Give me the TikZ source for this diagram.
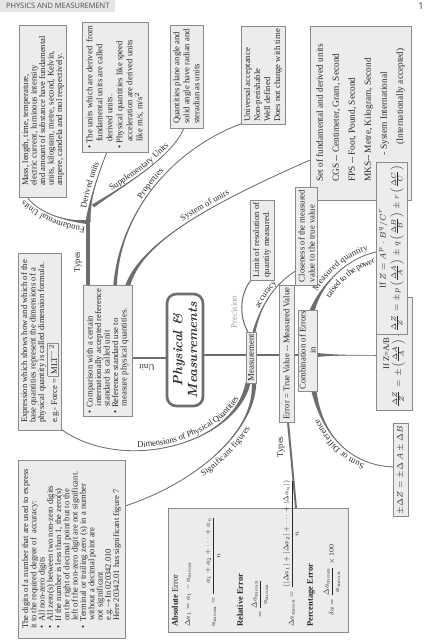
\documentclass[tikz,border=0pt]{standalone}
\usepackage{fontspec}
\usepackage{amsmath}
\usetikzlibrary{calc,decorations.text}
\newfontfamily\tms{Liberation Serif}
\newfontfamily\hdrf{Open Sans}
\definecolor{boxfill}{HTML}{ECECEC}
\definecolor{boxline}{HTML}{8A8A8A}
\definecolor{brc}{HTML}{6E6E6E}
\definecolor{txt}{HTML}{2A2A2A}
\definecolor{hdrfill}{HTML}{E6E6E6}
\newcommand\fA{\tms\fontsize{6.5}{6.4}\selectfont}
\newcommand\fB{\tms\fontsize{6.5}{7.5}\selectfont}
\newcommand\fE{\tms\fontsize{7}{12}\selectfont}
\newcommand\fS{\tms\fontsize{6.4}{6.2}\selectfont}
\newcommand\fL{\tms\fontsize{6.5}{7}\selectfont}
\newcommand\fM{\tms\fontsize{5.6}{6}\selectfont}
\newcommand\fN{\tms\fontsize{7}{8}\selectfont}
\newcommand\tbr[5]{%
  \fill[brc] ($#1!#5!90:#2$) .. controls #2 and #3 .. #4 .. controls #3 and #2 .. ($#1!#5!-90:#2$) -- cycle;
  \draw[brc, line width=0.6pt, line cap=round] #1 .. controls #2 and #3 .. #4;}
\begin{document}
\begin{tikzpicture}[x=0.75pt,y=-0.75pt,
  bx/.style={draw=boxline, fill=boxfill, line width=0.5pt, rotate=90, inner sep=2pt, align=left, text=txt},
  lbl/.style={text=txt, font=\fL, inner sep=0pt},
  eline/.style={rotate=90, scale=0.76, anchor=west, inner sep=0pt, text=txt, font=\fN},
  ehead/.style={rotate=90, anchor=west, inner sep=0pt, text=txt, font=\fS},
  clbl/.style={decorate, decoration={text along path, text align=center, text color=txt, raise=#1}}]
\useasboundingbox (0,0) rectangle (426,640);
\fill[white] (0,0) rectangle (426,640);
% header
\node[fill=hdrfill, anchor=north west, minimum width=86.25pt, minimum height=9pt, inner sep=0pt,
  font=\hdrf\fontsize{5.6}{6}\selectfont, text=txt!85] (hdr) at (0,0) {PHYSICS AND MEASUREMENT};
\node[font=\hdrf\fontsize{7}{8}\selectfont, text=txt] (pg) at (421,6) {1};
% coordinates
\coordinate (gR) at (132,358); \coordinate (cL) at (167,358);
\coordinate (cR) at (203,355); \coordinate (mL) at (246,355);
\coordinate (mR) at (256,355); \coordinate (eL) at (279,355);
\coordinate (eR) at (294,355); \coordinate (kL) at (299,355);
\coordinate (kR) at (316,355); \coordinate (zL) at (376,355);
\coordinate (gT1) at (88,288); \coordinate (tJ) at (88,222);
\coordinate (aB) at (27,197); \coordinate (bB) at (107,152);
\coordinate (sJ) at (93,206); \coordinate (cB) at (184,128);
\coordinate (gT2) at (115,288); \coordinate (dB) at (243,123);
\coordinate (gT3) at (127,288); \coordinate (esL) at (310,160);
\coordinate (mT1) at (248,332); \coordinate (pB) at (254,277);
\coordinate (mT2) at (254,332); \coordinate (aL) at (297,270);
\coordinate (mB1) at (248,383); \coordinate (fB) at (58,427);
\coordinate (mB2) at (254,383); \coordinate (sgR) at (125,506);
\coordinate (erB) at (288,422); \coordinate (etT) at (296,508);
\coordinate (kT) at (312,311); \coordinate (pwL) at (376,252);
\coordinate (kB) at (314,391); \coordinate (smL) at (393,467);
% branches
\draw[brc, line width=2.2pt] (cL) -- (gR);
\draw[brc, line width=2.2pt] (cR) -- (mL);
\draw[brc, line width=2.2pt] (mR) -- (eL);
\draw[brc, line width=2.2pt] (eR) -- (kL);
\tbr{(kR)}{(335,355)}{(355,355)}{(zL)}{1.6pt}
\draw[brc, line width=2.6pt] (gT1) -- (tJ);
\tbr{(tJ)}{(70,222)}{(40,215)}{(aB)}{1.6pt}
\tbr{(tJ)}{(90,195)}{(100,170)}{(bB)}{1.9pt}
\tbr{(sJ)}{(120,188)}{(172,158)}{(cB)}{1.3pt}
\tbr{(gT2)}{(118,215)}{(170,150)}{(dB)}{1.4pt}
\tbr{(gT3)}{(140,240)}{(220,200)}{(esL)}{1.9pt}
\draw[brc, line width=0.8pt] (mT1) .. controls (238,315) and (240,290) .. (pB);
\tbr{(mT2)}{(262,300)}{(278,282)}{(aL)}{1.1pt}
\tbr{(mB1)}{(235,445)}{(120,475)}{(fB)}{1.9pt}
\tbr{(mB2)}{(255,435)}{(190,485)}{(sgR)}{1.7pt}
\draw[brc, line width=1.5pt] (erB) -- (etT);
\tbr{(kT)}{(322,282)}{(348,258)}{(pwL)}{1.9pt}
\tbr{(kB)}{(322,435)}{(350,465)}{(smL)}{1.9pt}
% curved labels
\path[clbl=2pt, decoration={text={|\fL|Fundamental Units}}] (94,225) .. controls (70,224) and (40,215) .. (20,192);
\path[clbl=2.5pt, decoration={text={|\fL|Derived units}}] (tJ) .. controls (90,195) and (100,170) .. (bB);
\path[clbl=2pt, decoration={text={|\fL|Supplementary Units}}] (sJ) .. controls (120,188) and (172,158) .. (cB);
\path[clbl=2pt, decoration={text={|\fL|Properties}}] (gT2) .. controls (118,215) and (170,150) .. (dB);
\path[clbl=2.5pt, decoration={text={|\fL|System of units}}] (gT3) .. controls (140,240) and (220,200) .. (esL);
\path[clbl=2pt, decoration={text={|\fL|accuracy}}] (mT2) .. controls (262,300) and (278,282) .. (aL);
\path[clbl=2.5pt, decoration={text={|\fL|Dimensions of Physical Quantities}, text align={right, right indent=14pt}}] (fB) .. controls (120,475) and (235,445) .. (mB1);
\path[clbl=-7pt, decoration={text={|\fL|Significant figures}, text align={right, right indent=32pt}}] (sgR) .. controls (190,485) and (255,435) .. (mB2);
\path[clbl=3pt, decoration={text={|\fL|Measured quantity}, text align={right, right indent=5pt}}] (kT) .. controls (322,282) and (348,258) .. (pwL);
\path[clbl=-8pt, decoration={text={|\fL|raised to the power}, text align={right, right indent=3pt}}] (kT) .. controls (322,282) and (348,258) .. (pwL);
\path[clbl=2.5pt, decoration={text={|\fL|Sum or Difference}}] (smL) .. controls (350,465) and (322,435) .. (kB);
% straight labels
\node[lbl, rotate=180] (unitlbl) at (147,367) {Unit};
\node[lbl, rotate=90] (typ1) at (78,262) {Types};
\node[lbl, rotate=90, text=txt!45] (preclbl) at (234,312) {Precision};
\node[lbl, rotate=90] (typ2) at (281,447) {Types};
% boxes
\node[bx, font=\fA, minimum width=129pt, minimum height=34.5pt] (A) at (43,111) {Mass, length, time, temperature,\\
electric current, luminous intensity\\
and amount of substance have fundamental\\
units, kilogram, metre, second, Kelvin,\\
ampere, candela and mol respectively.};
\node[bx, font=\fB, minimum width=97.5pt, minimum height=49.5pt] (B) at (115,87) {\textbullet\ The units which are derived\ \ from\\
\hspace*{5pt}fundamental units are called\\
\hspace*{5pt}derived units.\\
\textbullet\ Physical quantities like speed\\
\hspace*{5pt}acceleration are derived units\\
\hspace*{5pt}like m/s, m/s$^2$};
\node[bx, font=\fB, minimum width=77pt, minimum height=24.75pt] (C) at (186.5,76.5) {Quantities plane angle and\\
solid angle have radian and\\
steradian as units};
\node[bx, font=\fB, minimum width=71pt, minimum height=33pt] (D) at (263,75.5) {Universal acceptance\\
Non-perishable\\
Well defined\\
Does not change with time};
\node[bx, font=\fE, minimum width=130.5pt, minimum height=75.75pt] (E) at (360.5,113) {Set of fundamental and derived units\\
CGS -- Centimeter, Gram, Second\\
FPS -- Foot, Pound, Second\\
MKS-- Metre, Kilogram, Second\\
S.I\hspace{12pt}- System International\\
\hspace*{28pt}(Internationally accepted)};
\node[bx, font=\fA, minimum width=132.75pt, minimum height=30pt] (F) at (40,341.5) {Expression which shows how and which of the\\
base quantities represent the dimensions of a\\
physical quantity is called dimension formula.\\
e.g.- Force = {\setlength\fboxsep{1pt}\setlength\fboxrule{0.4pt}\fcolorbox{boxline}{boxfill}{MLT$^{-2}$}}};
\node[bx, font=\fA, minimum width=98pt, minimum height=36.75pt] (G) at (107.5,351) {\textbullet\ Comparison with a certain\\
\hspace*{5pt}internationally accepted reference\\
\hspace*{5pt}standard is called unit\\
\textbullet\ Reference standard use to\\
\hspace*{5pt}measure physical quantities.};
\node[draw=brc, line width=2pt, rounded corners=7pt, fill=white, rotate=90, align=center,
  minimum width=84pt, minimum height=27pt, inner sep=1pt, text=txt,
  font=\bfseries\itshape\fontsize{10}{11}\selectfont] (ctr) at (185,350) {Physical \&\\Measurements};
\node[bx, font=\tms\fontsize{6.6}{7}\selectfont, minimum width=38.25pt, minimum height=7.5pt, inner sep=0.5pt, align=center] (meas) at (251,357.5) {Measurement};
\node[bx, font=\fB, minimum width=55pt, minimum height=18pt] (prec) at (262,240) {Limit of resolution of\\quantity measured.};
\node[bx, font=\fB, minimum width=73.5pt, minimum height=15.75pt] (acc) at (306.5,236) {Closeness of the measured\\value to the true value};
\node[bx, font=\fB, minimum width=102.75pt, minimum height=11.25pt, inner sep=1.5pt] (err) at (286.5,353.5) {Error = True Value -- Measured Value};
\node[bx, font=\fB, minimum width=60.75pt, minimum height=12.75pt, inner sep=1pt, align=center] (comb) at (307.5,350.5) {Combination of Errors\\in};
\node[bx, font=\fB, minimum width=47.25pt, minimum height=27pt, align=center] (zab) at (394,353.5) {If Z=A/B\\[1pt]
{\fM$\frac{\Delta Z}{Z}=\pm\left(\frac{\Delta A}{A}\right)+\left(\frac{\Delta B}{B}\right)$}};
\node[bx, font=\fB, minimum width=72.75pt, minimum height=23.25pt, align=center] (pow) at (391.5,248.5) {If $Z=A^p\cdot B^q/C^r$\\[1pt]
{\fM$\frac{\Delta Z}{Z}=\pm p\left(\frac{\Delta A}{A}\right)\pm q\left(\frac{\Delta B}{B}\right)\pm r\left(\frac{\Delta C}{C}\right)$}};
\node[bx, font=\fB, minimum width=48pt, minimum height=11.25pt, inner sep=1.5pt, align=center] (sum) at (400.5,470) {$\pm\Delta Z=\pm\Delta\,A\pm\Delta B$};
\node[bx, font=\fS, minimum width=133.5pt, minimum height=80.25pt] (sig) at (71.5,549) {The digits of a number that are used to express\\
it to the required degree of\ \ accuracy:\\
\textbullet\ \ All non-zero digits\\
\textbullet\ \ All zero(s) between two non-zero digits\\
\textbullet\ \ If the number is less than 1, the zero(s)\\
\hspace*{6pt}on the right of decimal point but to the\\
\hspace*{6pt}left of the non-zero digit are not significant.\\
\textbullet\ \ Terminal or trailing zero (s) in a number\\
\hspace*{6pt}without a decimal point are\\
\hspace*{6pt}not significant\\
\hspace*{6pt}e.g.$\rightarrow$In 020342.010\\
\hspace*{6pt}Here 20342.01 has significant figure 7};
% error types box
\node[bx, minimum width=93pt, minimum height=135pt] (errt) at (258,570) {};
\node[ehead] (et1) at (175,627) {\textbf{Absolute} Error};
\node[eline] (et2) at (188,627) {$\Delta a_1 = a_1 - a_{\mathrm{mean}}$};
\node[eline] (et3) at (213,627) {$a_{\mathrm{mean}} = \dfrac{\hspace{10pt}a_1+a_2+\dots+a_n}{n}$};
\node[ehead] (et4) at (240,627) {\textbf{Relative Error}};
\node[eline] (et5) at (260,618) {$=\dfrac{\Delta a_{\mathrm{mean}}}{a_{\mathrm{mean}}}$};
\node[eline] (et6) at (291,627) {$\Delta a_{\mathrm{mean}} = \dfrac{(|\Delta a_1|+|\Delta a_2|+\dots+|\Delta a_n|)}{n}$};
\node[ehead] (et7) at (311,627) {\textbf{Percentage Error}};
\node[eline] (et8) at (332,616) {$\delta a = \dfrac{\Delta a_{\mathrm{mean}}}{a_{\mathrm{mean}}}\times 100$};
\end{tikzpicture}
\end{document}
